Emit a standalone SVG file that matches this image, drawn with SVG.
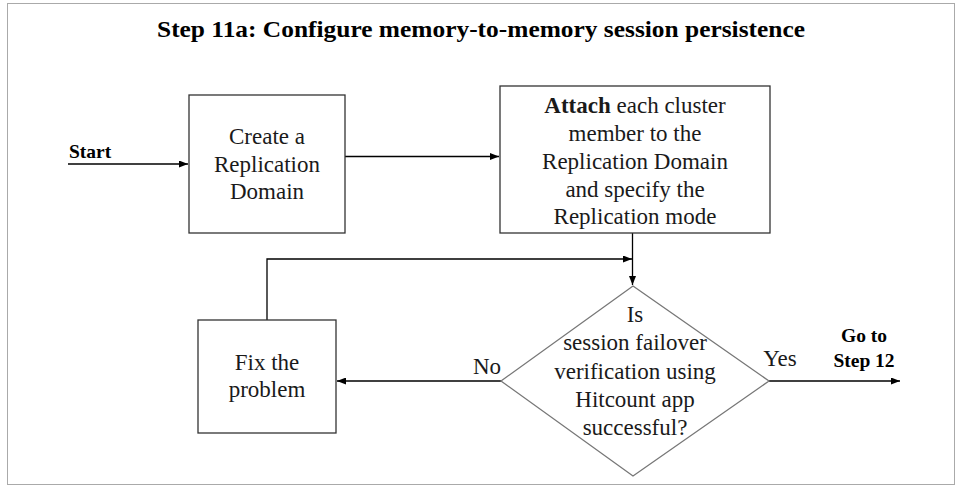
<svg xmlns="http://www.w3.org/2000/svg" width="962" height="493" viewBox="0 0 962 493">
<defs>
<marker id="ah" markerWidth="9" markerHeight="7" refX="9" refY="3.5" orient="auto" markerUnits="userSpaceOnUse">
<path d="M0,0 L9,3.5 L0,7 z" fill="#000"/>
</marker>
<style>
.t{font-family:"Liberation Serif","Times New Roman",serif;font-size:23px;fill:#1a1a1a;text-anchor:middle}
.b{font-family:"Liberation Serif","Times New Roman",serif;font-weight:bold;fill:#000}
.box{fill:#fff;stroke:#333;stroke-width:1.3}
.c{fill:none;stroke:#000;stroke-width:1.3}
</style>
</defs>
<rect x="0" y="0" width="962" height="493" fill="#fff"/>
<rect x="7.5" y="3.5" width="947" height="481" fill="none" stroke="#aaa" stroke-width="1"/>
<text class="b" x="481" y="37" font-size="23" text-anchor="middle" textLength="648" lengthAdjust="spacingAndGlyphs">Step 11a: Configure memory-to-memory session persistence</text>
<g id="connectors">
<path class="c" d="M68,164 H188" marker-end="url(#ah)"/>
<path class="c" d="M345,156.5 H499" marker-end="url(#ah)"/>
<path class="c" d="M632.5,233 V285" marker-end="url(#ah)"/>
<path class="c" d="M267,320 V259 H632" marker-end="url(#ah)"/>
<path class="c" d="M501,381 H337" marker-end="url(#ah)"/>
<path class="c" d="M769,381 H900" marker-end="url(#ah)"/>
</g>
<g id="start"><text class="b" x="69" y="158" font-size="19.5">Start</text></g>
<g id="create">
<rect class="box" x="189" y="95" width="156" height="138"/>
<text class="t" x="267" y="144">Create a</text>
<text class="t" x="267" y="172">Replication</text>
<text class="t" x="267" y="199">Domain</text>
</g>
<g id="attach">
<rect class="box" x="500" y="86" width="270" height="147"/>
<text class="t" x="635" y="113"><tspan font-weight="bold">Attach</tspan> each cluster</text>
<text class="t" x="635" y="141">member to the</text>
<text class="t" x="635" y="169">Replication Domain</text>
<text class="t" x="635" y="197">and specify the</text>
<text class="t" x="635" y="224">Replication mode</text>
</g>
<g id="decision">
<path d="M633,286 L769,381 L633,476 L501,381 Z" fill="#fff" stroke="#777" stroke-width="1.3"/>
<text class="t" x="635" y="322">Is</text>
<text class="t" x="635" y="350">session failover</text>
<text class="t" x="635" y="379">verification using</text>
<text class="t" x="635" y="407">Hitcount  app</text>
<text class="t" x="635" y="435">successful?</text>
</g>
<g id="fix">
<rect class="box" x="198" y="320" width="138" height="113"/>
<text class="t" x="267" y="370">Fix the</text>
<text class="t" x="267" y="397">problem</text>
</g>
<g id="labels">
<text class="t" x="487" y="374">No</text>
<text class="t" x="780" y="366">Yes</text>
<text class="b" x="864" y="342" font-size="19.5" text-anchor="middle">Go to</text>
<text class="b" x="864" y="367" font-size="19.5" text-anchor="middle">Step 12</text>
</g>
</svg>
